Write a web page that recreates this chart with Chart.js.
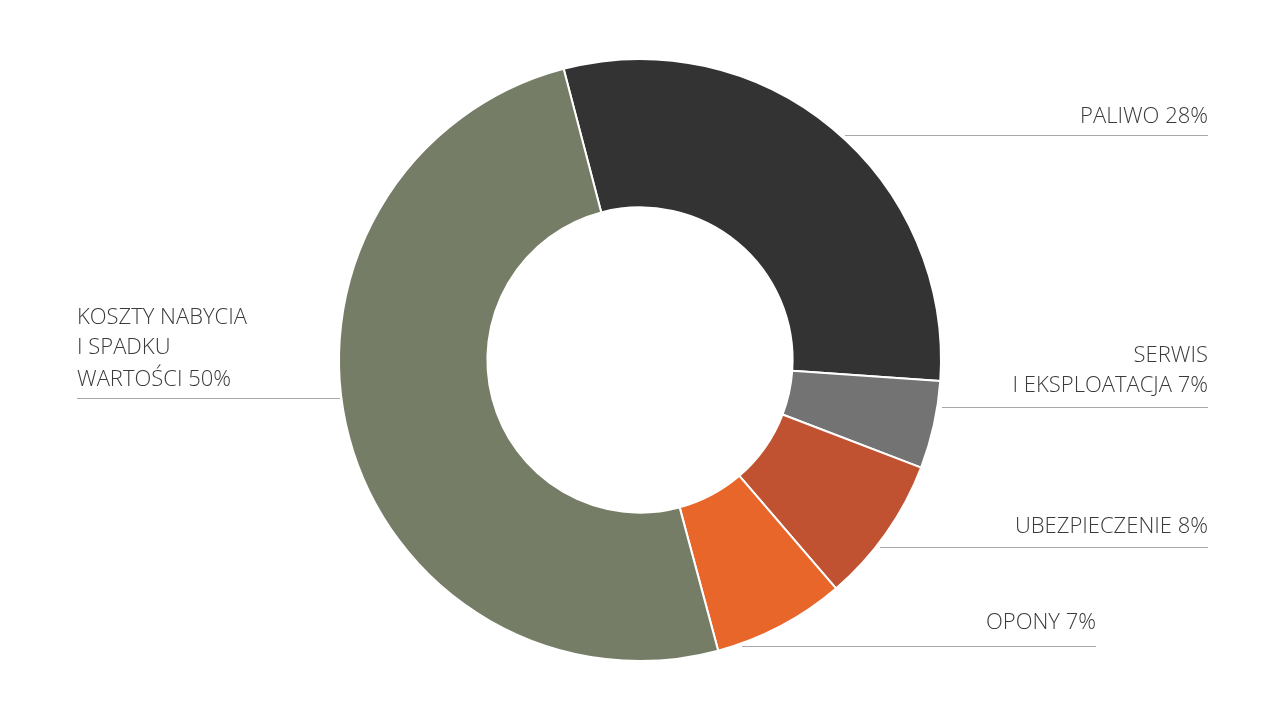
<!DOCTYPE html>
<html><head><meta charset="utf-8">
<script src="https://cdn.jsdelivr.net/npm/chart.js@4/dist/chart.umd.min.js"></script>
<style>html,body{margin:0;padding:0;background:#fff}#w{width:1280px;height:720px}</style>
</head><body><div id="w"><canvas id="c"></canvas></div>
<script>
const categories = ["PALIWO 28%", "SERWIS\nI EKSPLOATACJA 7%", "UBEZPIECZENIE 8%", "OPONY 7%", "KOSZTY NABYCIA\nI SPADKU\nWARTOŚCI 50%"];
const values = [30.2, 4.7, 7.9, 7.1, 50.1];
const colors = ["#333333", "#737373", "#c05232", "#e8662a", "#767d66"];
const labelSpecs = [
  {lineY:135, x0:845, x1:1208, align:'right', ty:[117]},
  {lineY:407, x0:942, x1:1208, align:'right', ty:[356,386]},
  {lineY:547, x0:880, x1:1208, align:'right', ty:[527]},
  {lineY:646, x0:742, x1:1096, align:'right', ty:[623]},
  {lineY:398, x0:77, x1:340, align:'left', ty:[318,348,380]}
];
const labelPlugin = {
  id:'labels',
  afterDraw(chart){
    const ctx = chart.ctx;
    ctx.save();
    ctx.font = '300 22px "Open Sans", "DejaVu Sans", sans-serif';
    ctx.fillStyle = '#3a3a3a';
    ctx.textBaseline = 'middle';
    categories.forEach((lab,i)=>{
      const s = labelSpecs[i];
      ctx.strokeStyle = '#a8a8a8'; ctx.lineWidth = 1;
      ctx.beginPath(); ctx.moveTo(s.x0, s.lineY+0.5); ctx.lineTo(s.x1, s.lineY+0.5); ctx.stroke();
      ctx.textAlign = s.align;
      const tx = s.align==='right' ? s.x1 : s.x0;
      lab.split('\n').forEach((t,j)=>ctx.fillText(t, tx, s.ty[j]));
    });
    ctx.restore();
  }
};
new Chart(document.getElementById('c'), {
  type:'doughnut',
  data:{labels:categories, datasets:[{data:values, backgroundColor:colors, borderColor:'#ffffff', borderWidth:2}]},
  options:{
    responsive:true, maintainAspectRatio:false, animation:false,
    rotation:-14.7, cutout:'50.7%',
    layout:{padding:{top:58,bottom:58}},
    plugins:{legend:{display:false}, tooltip:{enabled:false}}
  },
  plugins:[labelPlugin]
});
</script></body></html>
